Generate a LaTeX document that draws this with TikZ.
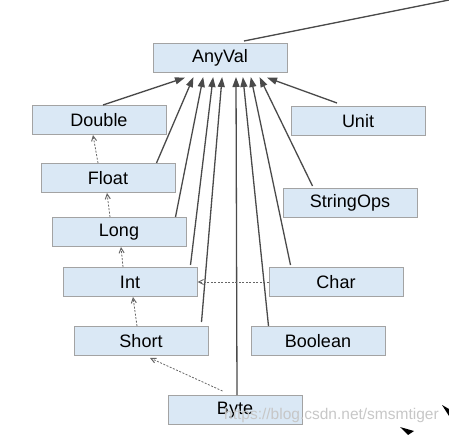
\documentclass[tikz,border=0pt]{standalone}
\usepackage{fontspec}
\setmainfont{Liberation Sans}
\usetikzlibrary{arrows.meta}
\definecolor{boxfill}{HTML}{DAE8F5}
\definecolor{boxline}{HTML}{A3A3A3}
\definecolor{wire}{HTML}{4A4A4A}
\tikzset{
    type/.style = {draw = boxline, fill = boxfill, line width = 1pt, minimum width = 134pt, minimum height = 29pt, inner sep = 0pt, text = black, font = \fontsize{18}{20}\selectfont},
    tip/.style  = {draw = wire, line width = 1.3pt, -{Triangle[length = 10pt, width = 7pt]}, shorten > = -1pt},
    conv/.style = {draw = black!60, line width = 0.8pt, dash pattern = on 2pt off 1.5pt, -{Straight Barb[length = 5pt, width = 5pt, line width = 1pt]}}
}

\begin{document}
\begin{tikzpicture}
        [
            x = 1pt, y = -1pt
        ]
        \useasboundingbox (0,0) rectangle (449,435);
        \node[type] (anyval)    at (220,58)  {AnyVal};
        \node[type] (double)    at (99,120)  {Double};
        \node[type] (unit)      at (358,121) {Unit};
        \node[type] (float)     at (108,178) {Float};
        \node[type] (stringops) at (350,203) {StringOps};
        \node[type] (long)      at (119,232) {Long};
        \node[type] (int)       at (130,282) {Int};
        \node[type] (char)      at (336,282) {Char};
        \node[type] (short)     at (141,341) {Short};
        \node[type] (boolean)   at (318,341) {Boolean};
        \node[type] (byte)      at (235,410) {Byte};
        \coordinate (any) at (449,0);
        % subtypes of AnyVal
        \draw[draw = wire, line width = 1.3pt] ([xshift = 24pt, yshift = 2pt]anyval.north) -- (any);
        \draw[tip] ([xshift = 4pt]double.north)         -- ([xshift = -36pt, yshift = -5pt]anyval.south);
        \draw[tip] ([xshift = -19pt]float.north east)   -- ([xshift = -27pt, yshift = -5pt]anyval.south);
        \draw[tip] ([xshift = -11pt]long.north east)    -- ([xshift = -17pt, yshift = -5pt]anyval.south);
        \draw[tip] ([xshift = -7pt, yshift = 2pt]int.north east) -- ([xshift = -7pt, yshift = -5pt]anyval.south);
        \draw[tip] ([xshift = -7pt, yshift = 4pt]short.north east) -- ([xshift = 2pt, yshift = -5pt]anyval.south);
        \draw[tip] ([xshift = 2pt]byte.north)           -- ([xshift = 16pt, yshift = -5pt]anyval.south);
        \draw[tip] ([xshift = 18pt]boolean.north west)  -- ([xshift = 23pt, yshift = -5pt]anyval.south);
        \draw[tip] ([xshift = 22pt, yshift = 2pt]char.north west) -- ([xshift = 31pt, yshift = -5pt]anyval.south);
        \draw[tip] ([xshift = 30pt, yshift = 2pt]stringops.north west) -- ([xshift = 40pt, yshift = -5pt]anyval.south);
        \draw[tip] ([xshift = -21pt, yshift = 3pt]unit.north) -- ([xshift = 48pt, yshift = -5pt]anyval.south);
        % implicit conversions
        \draw[conv] ([xshift = -10pt]float.north) -- ([xshift = -6pt]double.south);
        \draw[conv] ([xshift = -9pt]long.north)   -- ([xshift = -1pt]float.south);
        \draw[conv] ([xshift = -7pt]int.north)    -- ([xshift = 2pt]long.south);
        \draw[conv] ([xshift = -4pt]short.north)  -- ([xshift = 3pt]int.south);
        \draw[conv] ([xshift = 55pt, yshift = 4pt]byte.north west) -- ([xshift = 9pt, yshift = -2pt]short.south);
        \draw[conv] (char.west) -- (int.east);
        % watermark and clipped tips
        \node[text = black!22, font = \fontsize{15.5}{18}\selectfont, anchor = west, inner sep = 0pt] (mark) at (224,415) {https://blog.csdn.net/smsmtiger};
        \fill[black] (400,427) -- (414,431) -- (408,435) -- cycle;
        \fill[black] (442,405) -- (449,409) -- (449,416) -- cycle;
    \end{tikzpicture}
\end{document}
